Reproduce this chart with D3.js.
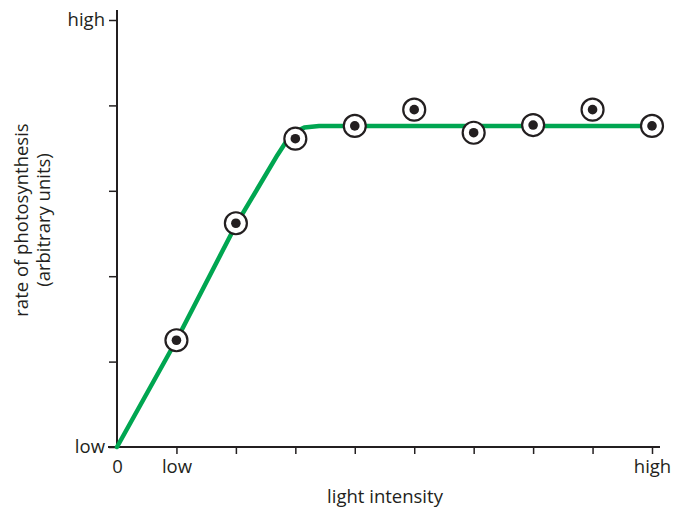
<!DOCTYPE html>
<html><head><meta charset="utf-8">
<script src="https://cdn.jsdelivr.net/npm/d3@7"></script>
<style>body{margin:0;background:#fff}svg{display:block}text{font-family:"Open Sans","Noto Sans",sans-serif;fill:#231f20;font-weight:400}</style>
</head><body><svg id="c" width="673" height="512"></svg>
<script>
const xTicks = [0,1,2,3,4,5,6,7,8,9];
const xTickLabels = {0:"0",1:"low",9:"high"};
const yTicks = [0,1,2,3,4,5];
const yTickLabels = {0:"low",5:"high"};
const pointX = [1,2,3,4,5,6,7,8,9];
const pointY = [1.25,2.62,3.61,3.76,3.95,3.68,3.77,3.95,3.76];
const lineX = [0,1,2,2.7,2.85,3.0,3.15,3.4,5,7,9];
const lineY = [0,1.25,2.6,3.42,3.58,3.69,3.74,3.76,3.76,3.76,3.76];

const svg = d3.select("#c");
const x = d3.scaleLinear().domain([0,9]).range([117,652]);
const y = d3.scaleLinear().domain([0,5]).range([447,20]);
const ink = "#231f20";
const fs = 18.5;

// axes
const xa = svg.append("g").attr("transform","translate(0,447)")
  .call(d3.axisBottom(x).tickValues(xTicks).tickSize(7).tickFormat(d=>xTickLabels[d]||""));
const ya = svg.append("g").attr("transform","translate(117,0)")
  .call(d3.axisLeft(y).tickValues(yTicks).tickSize(8).tickFormat(d=>yTickLabels[d]||""));
[xa,ya].forEach(a=>{
  a.select(".domain").remove();
  a.selectAll(".tick line").attr("stroke",ink).attr("stroke-width",1.5);
  a.selectAll(".tick text").attr("font-size",fs).attr("fill",ink)
    .style("font-family","'Open Sans',sans-serif").style("font-weight",400);
});
xa.selectAll(".tick line").filter(d=>d===0).remove();
xa.selectAll(".tick text").attr("dy","0.95em").attr("y",8);
ya.selectAll(".tick text").attr("x",-12).attr("dy","0.3em");

svg.append("line").attr("x1",117).attr("x2",117).attr("y1",10).attr("y2",448)
  .attr("stroke",ink).attr("stroke-width",2);
svg.append("line").attr("x1",108).attr("x2",660).attr("y1",447).attr("y2",447)
  .attr("stroke",ink).attr("stroke-width",2);

// line
const pts = lineX.map((v,i)=>[v,lineY[i]]);
svg.append("path").datum(pts)
  .attr("d",d3.line().x(d=>x(d[0])).y(d=>y(d[1])))
  .attr("fill","none").attr("stroke","#00a651").attr("stroke-width",4.5)
  .attr("stroke-linecap","round").attr("stroke-linejoin","round");

// points
const pdata = pointX.map((v,i)=>[v,pointY[i]]);
const g = svg.append("g");
g.selectAll("circle.o").data(pdata).join("circle").attr("class","o")
  .attr("cx",d=>x(d[0])).attr("cy",d=>y(d[1])).attr("r",11)
  .attr("fill","#fff").attr("stroke",ink).attr("stroke-width",2.2);
g.selectAll("circle.i").data(pdata).join("circle").attr("class","i")
  .attr("cx",d=>x(d[0])).attr("cy",d=>y(d[1])).attr("r",4.8)
  .attr("fill",ink);

// titles
svg.append("text").attr("x",385).attr("y",503).attr("text-anchor","middle")
  .attr("font-size",fs).text("light intensity");
const yt = svg.append("text").attr("transform","translate(28,220) rotate(-90)")
  .attr("text-anchor","middle").attr("font-size",fs);
yt.append("tspan").attr("x",0).attr("y",0).text("rate of photosynthesis");
yt.append("tspan").attr("x",0).attr("y",22).text("(arbitrary units)");
</script></body></html>
